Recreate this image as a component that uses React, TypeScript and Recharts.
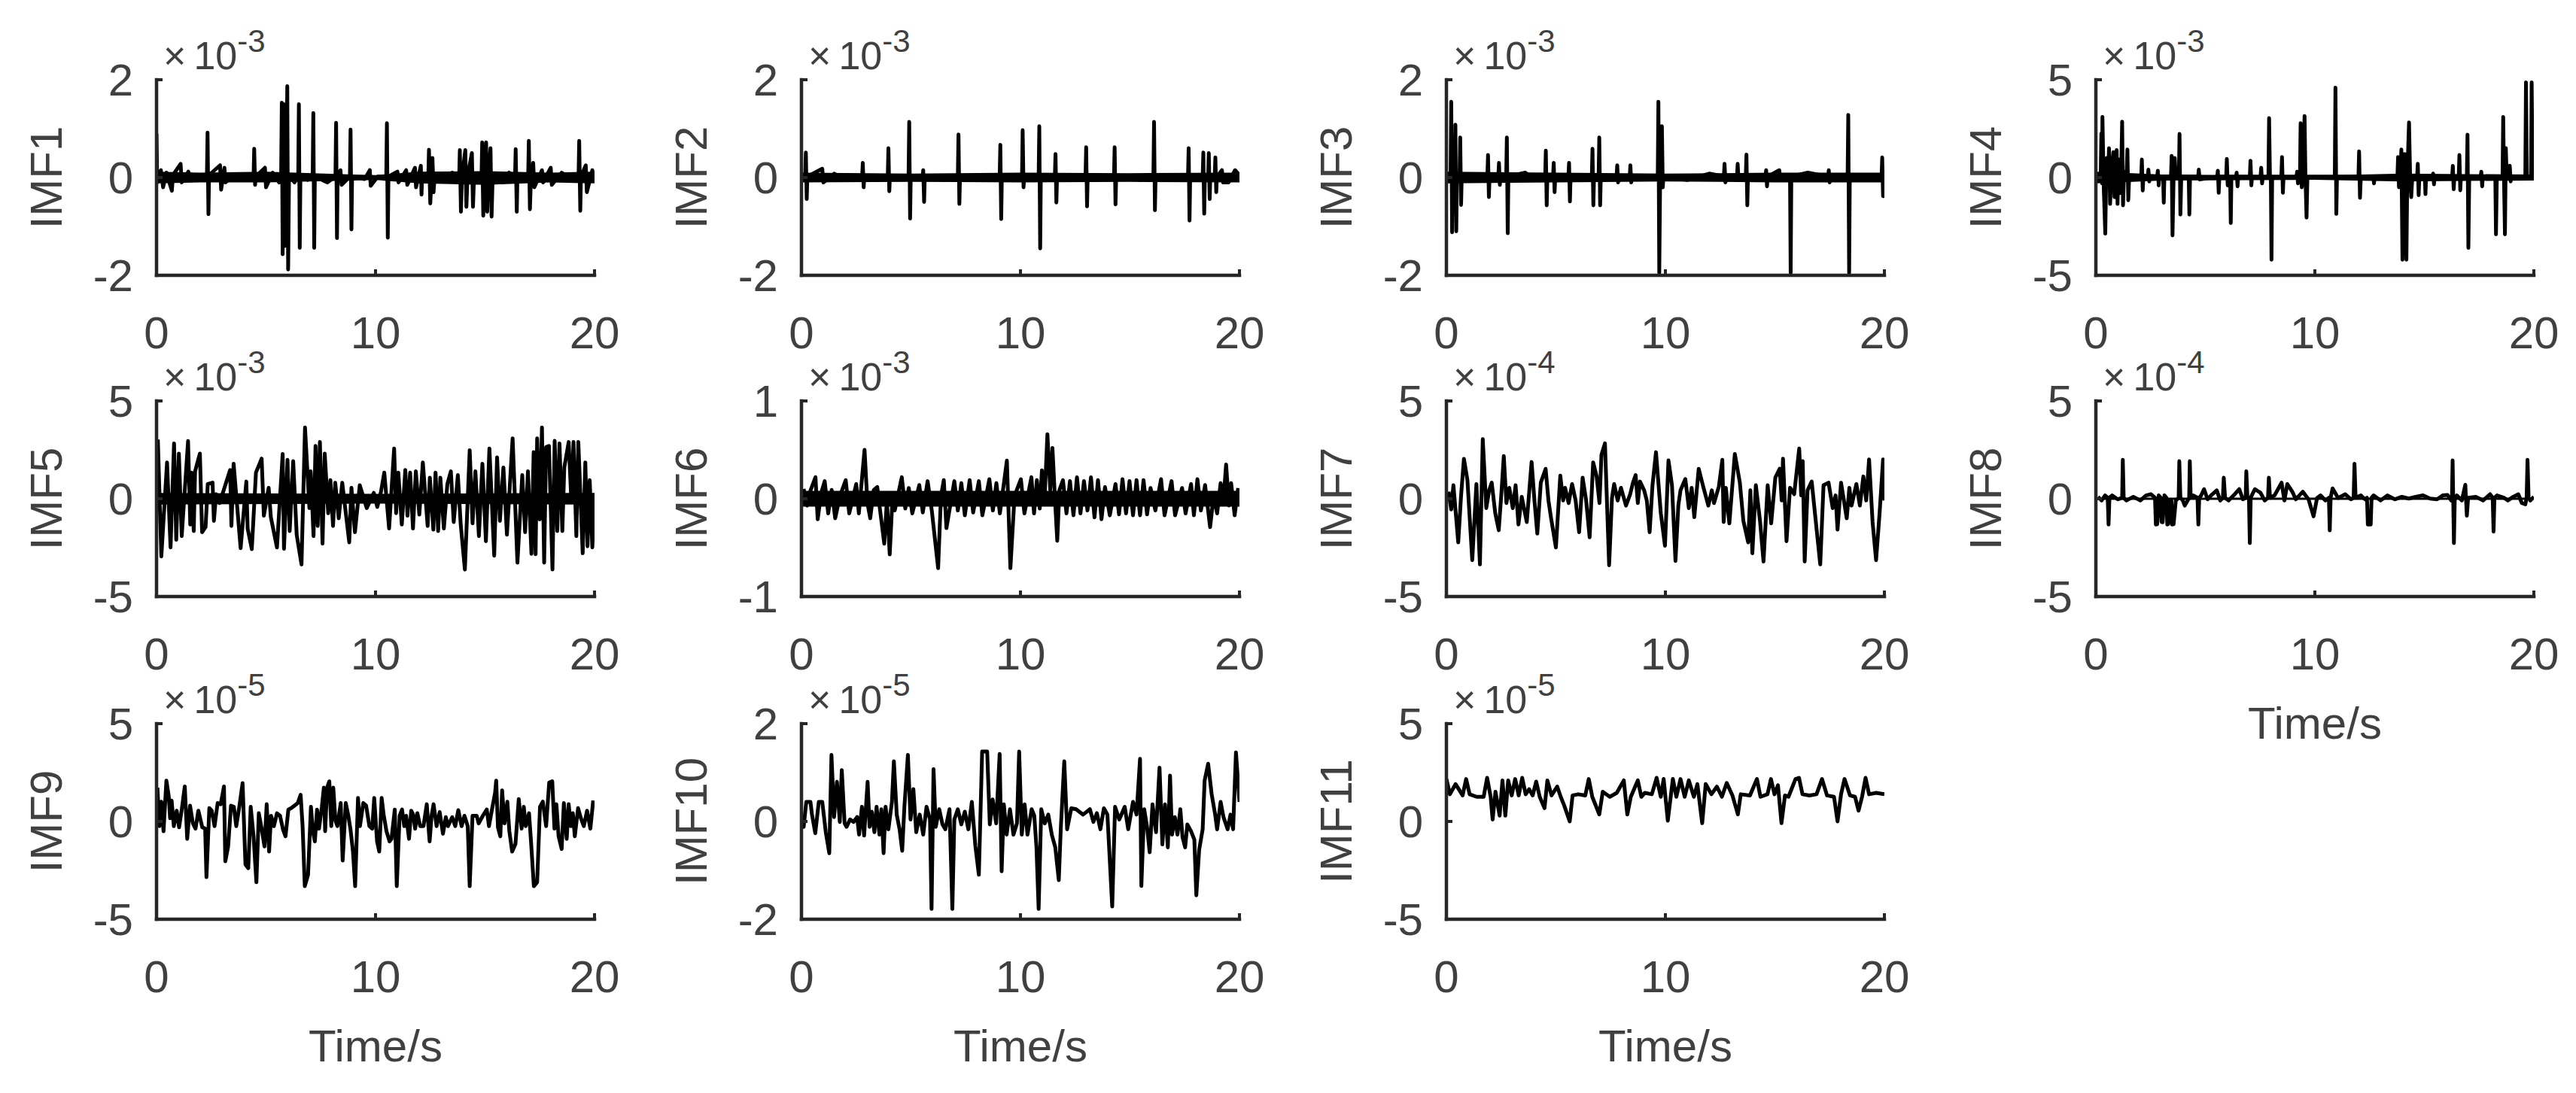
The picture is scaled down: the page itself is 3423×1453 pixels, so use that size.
import * as React from "react"
import { ComposedChart, Line, Area, XAxis, YAxis } from "recharts"

// values are in axis units (see EXPONENTS for the x10^n multiplier)
const IMF_NAMES = ["IMF1", "IMF2", "IMF3", "IMF4", "IMF5", "IMF6", "IMF7", "IMF8", "IMF9", "IMF10", "IMF11"]
const EXPONENTS = [-3, -3, -3, -3, -3, -3, -4, -4, -5, -5, -5]
const Y_LIMITS = [2, 2, 2, 5, 5, 1, 5, 5, 5, 2, 5]
const X_TICKS = [0, 10, 20]

type Pt = [number, number]
type Band = [number, number, number]

const IMF1: Pt[] = [[0,0.9],[0.03,-0.1],[0.2,0.15],[0.3,-0.2],[0.45,0.1],[0.7,-0.27],[0.75,0.05],[1.1,0.28],[1.15,-0.1],[1.45,0.12],[1.6,-0.05],[2.0,0.05],[2.3,0.02],[2.33,0.92],[2.37,-0.75],[2.4,0.05],[2.9,0.25],[2.95,-0.25],[3.1,0.2],[3.15,-0.1],[3.5,0.05],[4.0,-0.05],[4.43,0.02],[4.46,0.59],[4.5,-0.15],[4.53,0.02],[4.95,0.2],[5.0,-0.2],[5.3,0.1],[5.6,-0.1],[5.69,0.05],[5.72,1.53],[5.76,-1.57],[5.82,1.5],[5.86,-1.4],[5.93,0.05],[5.97,1.87],[6.01,-1.88],[6.05,0.05],[6.3,-0.1],[6.47,0.02],[6.5,1.5],[6.54,-1.44],[6.57,0.02],[6.9,-0.05],[7.13,0.02],[7.16,1.32],[7.2,-1.44],[7.23,0.02],[7.8,-0.1],[8.17,0.02],[8.2,1.12],[8.24,-1.24],[8.27,0.02],[8.4,0.15],[8.45,-0.15],[8.83,0.02],[8.86,0.98],[8.9,-1.06],[8.93,0.02],[9.5,-0.03],[9.74,0.15],[9.78,-0.17],[10.1,0.02],[10.49,0.02],[10.52,1.11],[10.56,-1.23],[10.59,0.02],[11.0,0.12],[11.05,-0.1],[11.4,0.15],[11.45,-0.15],[11.8,0.2],[11.85,-0.2],[12.07,0.24],[12.1,-0.35],[12.13,0.02],[12.41,0.02],[12.44,0.57],[12.5,-0.53],[12.6,0.4],[12.65,-0.3],[12.7,0.02],[13.3,-0.05],[13.5,0.1],[13.82,0.02],[13.85,0.56],[13.9,-0.7],[13.95,0.02],[14.1,0.56],[14.15,-0.6],[14.2,0.02],[14.4,0.5],[14.45,-0.6],[14.5,0.02],[14.84,0.02],[14.87,0.72],[14.92,-0.78],[14.96,0.02],[15.05,0.72],[15.1,-0.7],[15.15,0.02],[15.25,0.6],[15.3,-0.8],[15.35,0.02],[15.8,-0.1],[16.1,0.1],[16.37,0.02],[16.4,0.58],[16.45,-0.7],[16.48,0.02],[16.97,0.02],[17.0,0.75],[17.05,-0.65],[17.1,0.02],[17.2,0.3],[17.25,-0.2],[17.6,0.15],[17.65,-0.1],[18.0,0.2],[18.05,-0.15],[18.5,0.1],[19.0,-0.05],[19.27,0.02],[19.3,0.75],[19.35,-0.68],[19.38,0.02],[19.6,0.25],[19.65,-0.3],[19.9,0.15],[20,-0.1]]
const IMF1_BAND: Band[] = [[0,-0.12,0.12],[2,-0.1,0.1],[5,-0.1,0.12],[9,-0.06,0.06],[10,-0.05,0.05],[12,-0.12,0.12],[15,-0.15,0.13],[18,-0.1,0.1],[20,-0.12,0.12]]

const IMF2: Pt[] = [[0,0.05],[0.17,0.02],[0.2,0.51],[0.24,-0.44],[0.27,0.02],[0.95,0.18],[1.0,-0.1],[1.5,0.08],[2.0,-0.05],[2.77,0.02],[2.8,0.3],[2.84,-0.2],[2.87,0.02],[3.94,0.02],[3.97,0.6],[4.01,-0.28],[4.04,0.02],[4.89,0.02],[4.92,1.14],[4.96,-0.84],[4.99,0.02],[5.53,0.02],[5.56,0.15],[5.6,-0.5],[5.63,0.02],[6.5,-0.05],[7.14,0.02],[7.17,0.88],[7.21,-0.54],[7.24,0.02],[8.3,-0.05],[9.05,0.02],[9.08,0.67],[9.12,-0.85],[9.15,0.02],[10.07,0.02],[10.1,0.97],[10.14,-0.2],[10.17,0.02],[10.83,0.02],[10.86,1.05],[10.9,-1.45],[10.93,0.02],[11.57,0.02],[11.6,0.48],[11.64,-0.51],[11.67,0.02],[12.5,-0.05],[12.97,0.02],[13.0,0.62],[13.04,-0.59],[13.07,0.02],[14.27,0.02],[14.3,0.62],[14.34,-0.55],[14.37,0.02],[15.5,-0.05],[16.07,0.02],[16.1,1.14],[16.14,-0.67],[16.17,0.02],[17.2,-0.05],[17.65,0.02],[17.68,0.6],[17.72,-0.88],[17.75,0.02],[18.32,0.02],[18.35,0.51],[18.39,-0.74],[18.42,0.02],[18.57,0.02],[18.6,0.5],[18.64,-0.44],[18.67,0.02],[18.87,0.02],[18.9,0.41],[18.94,-0.3],[18.97,0.02],[19.2,0.15],[19.25,-0.1],[19.5,-0.1],[19.8,0.15],[20,0.05]]
const IMF2_BAND: Band[] = [[0,-0.1,0.1],[5,-0.09,0.08],[10,-0.1,0.1],[15,-0.09,0.09],[20,-0.1,0.1]]

const IMF3: Pt[] = [[0,0.05],[0.19,0.02],[0.22,1.55],[0.26,-1.12],[0.29,0.02],[0.38,0.02],[0.41,1.08],[0.45,-1.1],[0.48,0.02],[0.6,0.02],[0.63,0.82],[0.67,-0.56],[0.7,0.02],[1.3,-0.05],[1.87,0.02],[1.9,0.46],[1.94,-0.4],[1.97,0.02],[2.37,0.02],[2.4,0.3],[2.44,-0.15],[2.47,0.02],[2.73,0.02],[2.76,0.82],[2.8,-1.14],[2.83,0.02],[3.6,0.1],[4.0,-0.05],[4.51,0.02],[4.54,0.55],[4.58,-0.57],[4.61,0.02],[4.87,0.02],[4.9,0.3],[4.94,-0.3],[4.97,0.02],[5.57,0.02],[5.6,0.3],[5.64,-0.49],[5.67,0.02],[6.64,0.02],[6.67,0.59],[6.71,-0.57],[6.74,0.02],[6.95,0.02],[6.98,0.82],[7.02,-0.57],[7.05,0.02],[7.77,0.02],[7.8,0.25],[7.84,-0.1],[7.87,0.02],[8.37,0.02],[8.4,0.25],[8.44,-0.1],[8.47,0.02],[9.65,0.02],[9.68,1.55],[9.72,-1.95],[9.76,0.02],[9.81,0.02],[9.84,1.05],[9.88,-0.2],[9.91,0.02],[11.0,-0.05],[12.0,0.08],[12.67,0.02],[12.7,0.28],[12.74,-0.1],[12.77,0.02],[13.27,0.02],[13.3,0.28],[13.33,0.02],[13.67,0.02],[13.7,0.47],[13.74,-0.57],[13.77,0.02],[14.57,0.02],[14.6,0.15],[14.64,-0.18],[14.67,0.02],[15.2,0.15],[15.25,-0.05],[15.69,0.02],[15.72,-1.95],[15.75,0.02],[16.5,0.1],[17.43,0.02],[17.46,0.15],[17.5,-0.1],[17.53,0.02],[18.32,0.02],[18.35,1.28],[18.39,-1.95],[18.42,0.02],[19.3,-0.05],[19.87,0.02],[19.9,0.41],[19.94,-0.38],[19.97,0.02],[20,0.05]]
const IMF3_BAND: Band[] = [[0,-0.12,0.12],[5,-0.1,0.1],[10,-0.08,0.08],[15,-0.1,0.1],[20,-0.1,0.1]]

const IMF4: Pt[] = [[0,0.1],[0.22,0.05],[0.25,2.25],[0.28,-0.3],[0.3,3.1],[0.36,-0.5],[0.43,-2.87],[0.47,0.1],[0.5,1.0],[0.55,-0.2],[0.6,1.5],[0.65,-1.35],[0.7,0.1],[0.8,1.3],[0.85,-1.0],[0.9,0.1],[0.95,1.4],[0.99,-1.35],[1.02,0.1],[1.05,0.92],[1.1,-0.8],[1.15,0.05],[1.2,2.86],[1.24,-1.42],[1.28,0.05],[1.35,0.3],[1.4,0.05],[1.44,1.43],[1.48,-1.16],[1.52,0.05],[2.07,0.05],[2.1,0.92],[2.14,-0.66],[2.17,0.05],[2.37,0.05],[2.4,0.4],[2.44,-0.2],[2.47,0.05],[2.8,0.05],[2.83,0.35],[2.87,-0.4],[2.9,0.05],[3.07,0.05],[3.1,-1.29],[3.13,0.05],[3.43,0.05],[3.46,1.11],[3.5,-2.96],[3.55,0.05],[3.6,1.0],[3.65,0.05],[3.79,0.05],[3.82,2.23],[3.86,-1.89],[3.9,0.05],[4.24,0.05],[4.27,-1.89],[4.3,0.05],[4.67,0.05],[4.7,0.4],[4.74,-0.1],[5.54,0.05],[5.57,0.35],[5.61,-0.78],[5.64,0.05],[5.95,0.05],[5.98,0.95],[6.02,-0.4],[6.05,0.05],[6.13,0.05],[6.16,-2.33],[6.19,0.05],[6.4,0.05],[6.43,0.25],[6.47,-0.45],[6.5,0.05],[7.03,0.05],[7.06,0.86],[7.1,-0.4],[7.13,0.05],[7.52,0.05],[7.55,0.5],[7.59,-0.3],[7.62,0.05],[7.88,0.05],[7.91,3.04],[7.95,0.05],[7.99,0.05],[8.02,-4.2],[8.05,0.05],[8.47,0.05],[8.5,1.05],[8.54,-0.78],[8.57,0.05],[9.16,0.05],[9.19,0.3],[9.23,-0.3],[9.26,0.05],[9.32,0.05],[9.35,2.78],[9.4,-0.5],[9.45,0.05],[9.53,3.14],[9.57,0.05],[9.62,-2.05],[9.66,0.05],[10.91,0.05],[10.94,4.6],[10.98,-1.86],[11.01,0.05],[11.99,0.05],[12.02,1.34],[12.06,-1.04],[12.1,0.05],[12.67,0.05],[12.7,-0.3],[12.73,0.05],[13.77,0.05],[13.8,1.05],[13.84,-0.5],[13.9,0.05],[13.95,1.43],[14.0,-4.2],[14.05,0.05],[14.1,1.2],[14.18,-4.2],[14.22,0.05],[14.3,2.82],[14.35,0.05],[14.4,-1.0],[14.45,0.05],[14.67,0.05],[14.7,0.7],[14.74,-0.9],[14.77,0.05],[15.02,0.05],[15.05,-0.85],[15.08,0.05],[15.37,0.05],[15.4,0.2],[15.44,-0.35],[15.47,0.05],[16.27,0.05],[16.3,0.6],[16.34,-0.6],[16.37,0.05],[16.57,0.05],[16.6,1.15],[16.64,-0.65],[16.67,0.05],[16.94,0.05],[16.97,2.19],[17.01,-3.6],[17.05,0.05],[17.57,0.05],[17.6,0.3],[17.64,-0.45],[17.67,0.05],[18.24,0.05],[18.27,-2.9],[18.31,0.05],[18.57,0.05],[18.6,3.1],[18.64,-0.3],[18.68,-2.9],[18.72,1.5],[18.76,0.05],[18.9,0.6],[18.94,-0.2],[18.97,0.05],[19.61,0.05],[19.64,4.87],[19.68,0.05],[19.87,0.05],[19.9,4.87],[19.94,0.05],[20,0.1]]
const IMF4_BAND: Band[] = [[0,-0.3,0.3],[3,-0.15,0.15],[10,-0.12,0.1],[14,-0.2,0.2],[20,-0.15,0.15]]

const IMF5: Pt[] = [[0.06,3.03],[0.22,-2.95],[0.48,1.86],[0.64,-2.49],[0.8,2.83],[0.9,-2.1],[1.02,2.31],[1.15,-1.91],[1.44,2.95],[1.54,-1.32],[1.6,1.34],[1.7,-1.65],[1.76,1.4],[1.98,2.31],[2.08,-1.71],[2.24,-1.45],[2.34,0.75],[2.56,0.82],[2.62,-1.13],[2.72,0.23],[2.88,-0.22],[3.36,1.47],[3.42,-1.39],[3.52,1.79],[3.84,-2.53],[4.1,0.88],[4.16,-1.52],[4.35,-2.58],[4.54,1.34],[4.8,2.05],[4.9,-0.87],[5.12,0.56],[5.22,-0.94],[5.5,-2.49],[5.76,2.29],[5.82,-2.56],[5.98,1.99],[6.08,-1.65],[6.24,1.92],[6.4,-1.84],[6.62,-3.36],[6.78,3.64],[6.98,-0.48],[7.04,1.4],[7.17,-1.91],[7.26,2.7],[7.36,-1.39],[7.46,2.9],[7.58,-2.3],[7.68,2.31],[7.84,-0.74],[7.94,0.95],[8.06,-1.39],[8.16,0.82],[8.32,-1.0],[8.48,0.82],[8.8,-2.23],[8.9,0.56],[9.06,-1.71],[9.28,0.69],[9.6,-0.48],[9.92,0.3],[10.08,-0.42],[10.24,0.3],[10.4,1.34],[10.62,-1.52],[10.85,2.57],[10.94,-0.74],[11.04,1.34],[11.2,-1.32],[11.36,1.47],[11.46,-0.87],[11.58,1.34],[11.71,-1.52],[11.84,1.4],[12.0,-0.81],[12.16,1.86],[12.38,-1.39],[12.48,1.08],[12.64,-1.58],[12.74,1.34],[12.86,-1.65],[12.96,1.08],[13.12,-1.52],[13.28,0.75],[13.44,1.4],[13.57,-1.19],[13.76,1.21],[13.89,-1.32],[14.08,-3.62],[14.3,2.48],[14.43,-1.26],[14.56,1.4],[14.72,-1.91],[14.88,1.79],[15.04,-2.17],[15.2,2.57],[15.42,-2.91],[15.55,2.12],[15.68,-1.13],[15.84,1.6],[16.0,-1.84],[16.26,3.09],[16.48,-3.27],[16.7,1.21],[16.83,-1.71],[16.96,1.4],[17.12,-2.82],[17.22,2.38],[17.31,-2.84],[17.38,3.09],[17.5,-1.06],[17.6,3.64],[17.7,-3.27],[17.79,2.64],[17.92,2.7],[18.08,-3.62],[18.18,2.96],[18.3,-1.65],[18.4,2.83],[18.53,-1.65],[18.62,1.6],[18.82,2.9],[18.94,-0.09],[19.04,2.9],[19.17,-1.91],[19.26,2.9],[19.46,-2.79],[19.58,1.86],[19.68,-2.43],[19.78,0.95],[19.9,-2.49],[20,0.17]]
const IMF5_BAND: Band[] = [[0,-0.3,0.3],[10,-0.25,0.25],[20,-0.3,0.3]]

const IMF6: Pt[] = [[0.1,0.1],[0.26,-0.07],[0.42,0.09],[0.64,0.22],[0.74,-0.21],[0.9,0.06],[1.06,0.18],[1.22,-0.15],[1.38,0.09],[1.54,-0.2],[1.76,0.03],[2.02,0.19],[2.18,-0.15],[2.5,0.15],[2.62,-0.15],[2.88,0.5],[3.01,-0.04],[3.14,-0.2],[3.3,0.09],[3.46,0.12],[3.58,-0.1],[3.78,-0.46],[3.9,-0.02],[4.03,-0.57],[4.16,0.03],[4.26,-0.12],[4.58,0.22],[4.74,-0.1],[4.9,0.11],[5.06,-0.15],[5.38,0.14],[5.54,-0.14],[5.76,0.18],[5.95,-0.12],[6.24,-0.71],[6.37,0.03],[6.5,0.19],[6.62,-0.3],[6.98,0.18],[7.14,-0.12],[7.3,0.16],[7.46,-0.17],[7.68,0.19],[7.84,-0.14],[8.1,0.18],[8.26,-0.17],[8.58,0.2],[8.74,-0.12],[8.9,0.16],[9.06,-0.15],[9.38,0.39],[9.54,-0.71],[9.73,0.03],[10.02,0.2],[10.18,-0.15],[10.5,0.22],[10.62,-0.15],[10.75,0.19],[10.88,-0.1],[10.98,0.29],[11.1,-0.02],[11.23,0.66],[11.36,0.09],[11.46,0.52],[11.58,-0.02],[11.68,-0.43],[11.78,0.09],[11.94,0.19],[12.1,-0.15],[12.26,0.18],[12.42,-0.17],[12.58,0.22],[12.74,-0.15],[12.9,0.18],[13.06,-0.12],[13.22,0.22],[13.38,-0.19],[13.54,0.19],[13.7,-0.21],[13.86,0.12],[14.08,-0.17],[14.34,0.15],[14.5,-0.16],[14.66,0.2],[14.82,-0.15],[14.98,0.18],[15.14,-0.17],[15.3,0.19],[15.46,-0.17],[15.62,0.19],[15.78,-0.16],[15.94,0.11],[16.16,-0.12],[16.42,0.2],[16.58,-0.17],[16.9,0.18],[17.06,-0.17],[17.38,0.11],[17.54,-0.15],[17.79,0.15],[17.92,-0.17],[18.08,0.2],[18.24,-0.12],[18.43,0.14],[18.66,-0.29],[18.82,0.03],[18.98,-0.15],[19.14,0.16],[19.26,-0.04],[19.39,0.35],[19.52,-0.07],[19.62,0.16],[19.78,-0.17],[19.94,0.11]]
const IMF6_BAND: Band[] = [[0,-0.08,0.08],[20,-0.08,0.08]]

const IMF7: Pt[] = [[0.1,0.36],[0.22,-0.55],[0.32,0.69],[0.54,-2.23],[0.67,0.17],[0.8,2.04],[0.96,0.95],[1.18,-3.14],[1.37,0.75],[1.53,-3.36],[1.66,3.05],[1.82,-0.48],[1.95,0.43],[2.07,0.82],[2.23,-0.74],[2.39,-1.61],[2.52,0.43],[2.62,2.18],[2.74,-0.22],[2.87,0.56],[3.03,-0.48],[3.16,0.69],[3.29,-1.32],[3.44,0.1],[3.67,-1.19],[3.89,1.88],[4.02,-0.09],[4.15,-1.78],[4.31,0.82],[4.53,1.53],[4.66,-0.09],[4.78,-1.0],[5.0,-2.49],[5.2,1.18],[5.33,-0.09],[5.42,0.56],[5.58,-0.22],[5.74,0.75],[5.9,-0.09],[6.06,-1.71],[6.22,1.08],[6.38,-0.09],[6.54,-1.97],[6.7,1.86],[6.86,1.14],[6.99,-0.22],[7.08,2.25],[7.24,2.83],[7.43,-3.4],[7.56,0.04],[7.66,0.75],[7.82,-0.09],[7.97,0.56],[8.2,-0.35],[8.39,0.23],[8.52,0.82],[8.64,1.21],[8.74,-0.22],[8.84,0.88],[9.03,0.43],[9.15,-0.09],[9.28,-1.71],[9.41,0.69],[9.57,2.38],[9.79,-0.74],[9.98,-2.4],[10.14,1.96],[10.3,0.69],[10.46,-3.18],[10.59,-0.35],[10.69,0.43],[10.91,1.01],[11.07,-0.48],[11.2,0.56],[11.32,-0.94],[11.52,1.53],[11.71,0.69],[11.96,-0.35],[12.12,0.43],[12.22,-0.22],[12.44,0.62],[12.6,1.99],[12.66,-1.19],[12.76,0.56],[12.92,-1.26],[13.17,2.29],[13.4,0.82],[13.56,-1.13],[13.78,-2.23],[13.88,0.43],[13.97,-2.79],[14.13,0.69],[14.32,-1.13],[14.48,-3.21],[14.67,0.69],[14.83,-1.26],[15.02,1.08],[15.22,1.53],[15.31,-0.09],[15.37,2.05],[15.53,-2.17],[15.69,0.56],[15.88,0.23],[16.11,2.57],[16.2,0.17],[16.27,1.92],[16.36,-3.21],[16.49,0.43],[16.68,0.88],[16.84,-0.87],[17.07,-3.36],[17.22,0.69],[17.45,0.82],[17.64,-0.48],[17.77,0.17],[17.86,-1.58],[18.02,0.82],[18.28,-1.0],[18.4,0.56],[18.5,-0.35],[18.72,0.75],[18.88,-0.35],[19.04,1.14],[19.17,-0.09],[19.3,2.01],[19.46,-1.19],[19.62,-3.14],[19.78,-0.74],[19.94,2.01],[20,-0.09]]

const IMF8: Pt[] = [[0.1,0.1],[0.26,-0.09],[0.42,0.17],[0.54,0.05],[0.58,-1.32],[0.62,0.05],[0.74,0.17],[1.0,-0.03],[1.2,0.05],[1.23,1.99],[1.27,0.05],[1.39,-0.09],[1.71,0.1],[2.03,-0.09],[2.29,0.17],[2.52,0.23],[2.7,0.05],[2.74,-1.32],[2.8,-1.3],[2.87,0.17],[2.96,0.05],[3.0,-1.19],[3.05,-1.2],[3.13,0.17],[3.22,0.05],[3.26,-1.32],[3.3,-1.3],[3.39,-0.09],[3.45,-0.1],[3.48,-1.32],[3.55,-1.3],[3.65,-0.09],[3.78,0.05],[3.81,1.92],[3.86,0.05],[3.97,-0.09],[4.06,-0.35],[4.26,0.05],[4.29,1.92],[4.33,0.05],[4.45,0.17],[4.64,0.05],[4.68,-1.32],[4.72,0.05],[4.81,0.17],[4.94,0.49],[5.1,-0.03],[5.26,0.17],[5.52,0.43],[5.68,-0.09],[5.8,0.05],[5.84,1.08],[5.9,0.05],[6.06,-0.09],[6.29,0.17],[6.55,0.49],[6.71,-0.03],[6.84,0.05],[6.87,1.4],[6.92,0.05],[6.99,0.05],[7.03,-2.27],[7.07,0.05],[7.26,0.49],[7.52,0.3],[7.71,-0.09],[7.86,0.05],[7.9,1.08],[7.95,0.05],[8.16,0.17],[8.48,0.82],[8.61,-0.09],[8.74,0.75],[8.97,0.36],[9.13,-0.03],[9.45,0.36],[9.71,-0.03],[9.94,-0.9],[10.1,0.04],[10.26,0.17],[10.48,-0.09],[10.64,0.05],[10.68,-1.62],[10.72,0.05],[10.81,0.53],[11.06,0.04],[11.39,0.23],[11.65,-0.03],[11.77,0.05],[11.81,1.79],[11.86,0.05],[12.1,0.17],[12.29,-0.03],[12.38,0.05],[12.42,-1.32],[12.55,-1.32],[12.59,0.05],[12.68,0.17],[13.0,-0.09],[13.32,0.17],[13.65,-0.03],[13.97,0.1],[14.29,0.01],[14.61,0.1],[14.94,0.17],[15.26,0.01],[15.58,-0.03],[15.84,0.17],[16.06,0.19],[16.23,-0.09],[16.26,0.05],[16.29,1.96],[16.35,-2.27],[16.39,0.05],[16.48,0.17],[16.71,-0.09],[16.87,0.71],[16.94,-0.87],[17.0,0.05],[17.35,0.1],[17.68,-0.09],[18.0,0.23],[18.12,0.05],[18.16,-1.68],[18.2,0.05],[18.32,0.17],[18.65,0.04],[18.81,-0.09],[19.06,0.1],[19.29,0.23],[19.45,-0.22],[19.61,-0.29],[19.67,0.05],[19.71,1.99],[19.76,0.05],[19.84,-0.09],[20,0.1]]
const IMF8_BAND: Band[] = [[0,-0.06,0.06],[20,-0.06,0.06]]

const IMF9: Pt[] = [[0.04,1.73],[0.13,-0.24],[0.22,1.01],[0.32,-0.5],[0.45,2.09],[0.56,1.27],[0.62,0.16],[0.69,1.07],[0.79,-0.24],[0.92,0.55],[1.03,-0.3],[1.16,0.68],[1.29,1.79],[1.4,-0.89],[1.53,0.81],[1.66,-0.1],[1.78,-0.37],[1.91,0.55],[2.09,-0.3],[2.22,-0.37],[2.28,-2.85],[2.41,0.68],[2.52,0.55],[2.65,-0.24],[2.79,0.94],[2.93,0.88],[3.08,1.79],[3.14,-2.04],[3.27,-1.28],[3.4,0.81],[3.53,0.75],[3.64,-0.24],[3.78,0.75],[3.93,1.96],[4.06,-2.2],[4.19,-2.39],[4.3,0.75],[4.43,-0.76],[4.56,-3.11],[4.67,0.42],[4.8,-0.37],[4.93,-1.28],[5.03,0.88],[5.14,-1.54],[5.23,0.29],[5.36,-0.24],[5.5,0.42],[5.64,0.29],[5.78,-0.43],[5.89,-0.76],[6.02,0.61],[6.15,0.68],[6.3,0.81],[6.45,0.94],[6.58,1.36],[6.67,-0.24],[6.77,-3.31],[6.92,-2.72],[7.05,0.75],[7.14,-0.5],[7.23,-1.02],[7.33,0.61],[7.42,-0.37],[7.55,0.75],[7.64,1.73],[7.7,-0.5],[7.79,1.73],[7.89,2.05],[7.98,-0.24],[8.07,1.73],[8.17,0.03],[8.26,-0.24],[8.41,0.94],[8.5,-2.0],[8.64,0.94],[8.75,0.35],[8.86,-0.43],[8.97,-1.54],[9.07,-3.31],[9.2,1.2],[9.29,-0.24],[9.44,0.94],[9.57,0.81],[9.72,-0.24],[9.85,-0.37],[9.94,1.2],[10.07,-1.02],[10.17,-1.54],[10.28,1.2],[10.37,0.35],[10.5,-0.5],[10.64,-1.02],[10.73,-0.89],[10.88,0.61],[10.97,-3.31],[11.1,0.29],[11.21,0.61],[11.31,-0.24],[11.4,0.29],[11.53,-0.89],[11.63,0.55],[11.72,0.35],[11.81,-0.37],[11.91,0.42],[12.04,-0.24],[12.19,-0.24],[12.34,0.88],[12.47,-1.02],[12.56,0.29],[12.65,0.88],[12.79,-0.24],[12.93,0.48],[13.08,-0.63],[13.21,0.22],[13.31,-0.24],[13.5,0.22],[13.64,-0.24],[13.78,0.58],[13.93,-0.24],[14.06,0.29],[14.21,-0.24],[14.3,-3.31],[14.43,0.29],[14.62,0.29],[14.71,-0.1],[14.9,0.29],[15.08,0.61],[15.18,-0.24],[15.33,0.68],[15.46,1.46],[15.51,2.09],[15.59,-0.3],[15.7,-0.76],[15.78,1.59],[15.89,-0.1],[16.02,1.01],[16.11,-0.5],[16.24,-1.54],[16.39,-1.15],[16.54,1.14],[16.67,-0.37],[16.77,0.75],[16.86,-0.24],[17.01,0.42],[17.1,-1.02],[17.23,-3.31],[17.38,-3.11],[17.51,0.75],[17.64,1.01],[17.79,-0.24],[17.93,1.99],[18.07,2.05],[18.17,-0.37],[18.26,0.88],[18.36,-0.76],[18.5,-1.41],[18.6,0.94],[18.73,-0.89],[18.82,0.88],[18.92,-0.24],[19.01,0.42],[19.1,-0.76],[19.25,0.68],[19.38,0.16],[19.51,-0.24],[19.66,0.55],[19.81,-0.37],[19.94,1.07]]

const IMF10: Pt[] = [[0,-0.01],[0.1,-0.11],[0.22,0.4],[0.41,0.4],[0.48,0.14],[0.63,-0.24],[0.79,0.4],[0.95,0.4],[1.11,-0.22],[1.27,-0.65],[1.37,1.36],[1.49,0.09],[1.62,0.81],[1.75,-0.01],[1.84,1.05],[1.97,-0.04],[2.06,-0.11],[2.22,0.04],[2.38,-0.01],[2.54,0.09],[2.63,-0.27],[2.76,0.3],[2.86,-0.29],[3.02,0.81],[3.11,-0.11],[3.21,0.2],[3.33,-0.22],[3.43,0.3],[3.56,-0.27],[3.65,0.25],[3.75,-0.65],[3.84,0.3],[3.97,-0.16],[4.13,0.4],[4.22,1.23],[4.35,0.14],[4.48,-0.16],[4.6,-0.6],[4.7,0.3],[4.86,1.36],[4.98,0.04],[5.11,0.66],[5.24,-0.22],[5.4,0.14],[5.56,-0.27],[5.71,0.3],[5.87,0.04],[5.94,-1.79],[6.03,1.07],[6.13,-0.11],[6.29,0.25],[6.44,-0.06],[6.57,-0.16],[6.76,0.25],[6.89,-1.79],[6.98,0.04],[7.14,0.25],[7.3,-0.06],[7.46,0.2],[7.62,-0.16],[7.78,0.4],[7.94,-0.5],[8.1,-1.09],[8.25,1.43],[8.48,1.43],[8.6,-0.06],[8.73,0.45],[8.89,-0.04],[9.05,1.38],[9.14,-1.02],[9.24,0.35],[9.37,-0.27],[9.52,0.25],[9.68,-0.27],[9.84,-0.04],[9.94,1.43],[10.06,-0.27],[10.19,0.35],[10.32,-0.27],[10.51,0.25],[10.63,0.12],[10.73,-0.53],[10.83,-1.79],[10.95,0.25],[11.11,-0.04],[11.27,0.14],[11.43,-0.27],[11.59,-0.53],[11.75,-1.2],[11.84,-0.16],[12.0,1.23],[12.13,-0.16],[12.32,0.27],[12.54,0.25],[12.86,0.14],[13.17,0.25],[13.33,-0.01],[13.49,0.17],[13.65,-0.16],[13.81,0.27],[13.97,0.14],[14.19,-1.74],[14.32,0.3],[14.51,0.04],[14.76,0.3],[14.92,-0.16],[15.14,0.4],[15.3,0.14],[15.46,1.28],[15.52,-1.32],[15.65,0.25],[15.78,-0.11],[15.9,-0.63],[16.03,0.35],[16.19,-0.22],[16.35,1.1],[16.48,-0.47],[16.6,0.35],[16.73,-0.53],[16.83,0.94],[16.92,-0.27],[17.05,0.09],[17.17,-0.27],[17.3,0.25],[17.4,-0.32],[17.52,-0.53],[17.62,-0.06],[17.78,-0.19],[17.94,-0.37],[18.03,-1.51],[18.16,-0.58],[18.32,-0.16],[18.41,0.84],[18.57,1.18],[18.73,0.56],[18.89,0.14],[18.98,-0.16],[19.14,0.4],[19.27,0.09],[19.46,-0.16],[19.59,0.14],[19.71,-0.16],[19.84,1.41],[20,0.4]]

const IMF11: Pt[] = [[0,2.17],[0.16,1.39],[0.42,1.91],[0.74,1.33],[0.9,2.17],[1.06,1.39],[1.38,1.26],[1.7,1.26],[1.86,2.23],[2.02,1.26],[2.11,0.1],[2.24,1.52],[2.43,0.3],[2.56,2.1],[2.69,0.3],[2.82,2.1],[2.98,1.33],[3.14,2.17],[3.3,1.33],[3.46,2.23],[3.62,1.39],[3.78,1.65],[3.94,1.33],[4.1,2.04],[4.26,1.26],[4.48,0.68],[4.61,2.1],[4.8,1.33],[5.06,1.78],[5.22,1.26],[5.38,0.81],[5.63,0],[5.76,1.33],[6.02,1.39],[6.34,1.33],[6.5,2.17],[6.66,1.26],[6.98,0.36],[7.14,1.52],[7.46,1.26],[7.78,1.46],[8.1,2.1],[8.26,0.36],[8.42,1.26],[8.74,2.1],[8.9,1.26],[9.06,1.46],[9.38,1.39],[9.6,2.23],[9.79,1.26],[9.92,2.17],[10.11,0.04],[10.34,2.17],[10.5,1.26],[10.69,2.17],[10.88,1.26],[11.07,2.1],[11.3,1.26],[11.46,1.91],[11.68,-0.09],[11.84,1.91],[12.1,1.39],[12.35,1.78],[12.58,1.26],[12.8,1.97],[13.06,1.33],[13.31,0.36],[13.44,1.39],[13.86,1.33],[14.18,2.17],[14.34,1.26],[14.66,1.39],[14.82,2.17],[14.98,1.39],[15.14,1.85],[15.3,-0.09],[15.46,1.33],[15.62,1.26],[15.94,2.17],[16.1,2.23],[16.26,1.39],[16.58,1.33],[16.9,1.39],[17.15,2.17],[17.38,1.33],[17.7,1.26],[17.86,0],[18.02,1.39],[18.18,2.17],[18.43,1.33],[18.66,1.26],[18.82,0.55],[18.98,1.26],[19.14,2.23],[19.3,1.39],[19.62,1.46],[20,1.39]]

const SERIES: Pt[][] = [IMF1, IMF2, IMF3, IMF4, IMF5, IMF6, IMF7, IMF8, IMF9, IMF10, IMF11]
const BANDS: (Band[] | null)[] = [IMF1_BAND, IMF2_BAND, IMF3_BAND, IMF4_BAND, IMF5_BAND, IMF6_BAND, null, IMF8_BAND, null, null, null]

// layout (px) of the axes boxes in the 3423x1453 figure
const COL_X = [208, 1065, 1922, 2785]
const ROW_Y = [106, 533, 962]
const AX_W = 582
const AX_H = 260
const Y_AXIS_W = 200
const X_AXIS_H = 130
const TOP_M = 60
const RIGHT_M = 40

const FONT = "'Liberation Sans', Arial, Helvetica, sans-serif"
const TEXT = "#404040"
const AXIS = "#262626"
const LINE = "#000000"

const axisLine = { stroke: AXIS, strokeWidth: 4.5, strokeLinecap: "square" as const }
const tickLine = { stroke: AXIS, strokeWidth: 4 }
const tickText = { fontSize: 60, fill: TEXT, fontFamily: FONT }

function Panel({ idx }: { idx: number }) {
  const col = idx % 4
  const row = Math.floor(idx / 4)
  const lim = Y_LIMITS[idx]
  const lineData = SERIES[idx].map(([t, v]) => ({ t, v }))
  const band = BANDS[idx]
  const bandData = band ? band.map(([t, lo, hi]) => ({ t, band: [lo, hi] })) : null
  const width = Y_AXIS_W + AX_W + RIGHT_M
  const height = TOP_M + AX_H + X_AXIS_H

  return (
    <div
      style={{
        position: "absolute",
        left: COL_X[col] - Y_AXIS_W,
        top: ROW_Y[row] - TOP_M,
        width,
        height,
      }}
    >
      <ComposedChart width={width} height={height} margin={{ top: TOP_M, right: RIGHT_M, bottom: 0, left: 0 }}>
        <XAxis
          dataKey="t"
          type="number"
          domain={[0, 20]}
          ticks={X_TICKS}
          interval={0}
          height={X_AXIS_H}
          tickSize={-8}
          tickMargin={62}
          axisLine={axisLine}
          tickLine={tickLine}
          tick={tickText}
          allowDataOverflow
        />
        <XAxis
          xAxisId="top"
          orientation="top"
          type="number"
          domain={[0, 20]}
          ticks={X_TICKS}
          interval={0}
          height={0}
          tickSize={-8}
          axisLine={axisLine}
          tickLine={tickLine}
          tick={false}
          allowDataOverflow
        />
        <YAxis
          type="number"
          domain={[-lim, lim]}
          ticks={[-lim, 0, lim]}
          interval={0}
          width={Y_AXIS_W}
          tickSize={-8}
          tickMargin={39}
          axisLine={axisLine}
          tickLine={tickLine}
          tick={tickText}
          allowDataOverflow
        />
        <YAxis
          yAxisId="right"
          orientation="right"
          type="number"
          domain={[-lim, lim]}
          ticks={[-lim, 0, lim]}
          interval={0}
          width={0}
          tickSize={-8}
          axisLine={axisLine}
          tickLine={tickLine}
          tick={false}
          allowDataOverflow
        />
        {bandData && (
          <Area
            data={bandData}
            dataKey="band"
            type="linear"
            fill={LINE}
            fillOpacity={1}
            stroke="none"
            dot={false}
            activeDot={false}
            isAnimationActive={false}
          />
        )}
        <Line
          data={lineData}
          dataKey="v"
          type="linear"
          stroke={LINE}
          strokeWidth={5}
          strokeLinejoin="round"
          dot={false}
          activeDot={false}
          isAnimationActive={false}
        />
      </ComposedChart>
    </div>
  )
}

function Labels() {
  return (
    <svg
      width={3423}
      height={1453}
      style={{ position: "absolute", left: 0, top: 0, pointerEvents: "none" }}
      fontFamily={FONT}
      fill={TEXT}
    >
      {IMF_NAMES.map((name, idx) => {
        const col = idx % 4
        const row = Math.floor(idx / 4)
        const x0 = COL_X[col]
        const y0 = ROW_Y[row]
        const lx = x0 - 126
        const ly = y0 + AX_H / 2
        return (
          <g key={name}>
            <text x={lx} y={ly} fontSize={60} textAnchor="middle" transform={`rotate(-90 ${lx} ${ly})`}>
              {name}
            </text>
            <text x={x0 + 9} y={y0 - 14} fontSize={52}>
              ×<tspan dx={10}>10</tspan>
              <tspan fontSize={42} dy={-23}>{EXPONENTS[idx]}</tspan>
            </text>
          </g>
        )
      })}
      {[7, 8, 9, 10].map((idx) => {
        const col = idx % 4
        const row = Math.floor(idx / 4)
        return (
          <text
            key={idx}
            x={COL_X[col] + AX_W / 2}
            y={ROW_Y[row] + AX_H + 189}
            fontSize={60}
            textAnchor="middle"
          >
            Time/s
          </text>
        )
      })}
    </svg>
  )
}

export default function App() {
  return (
    <div style={{ position: "relative", width: 3423, height: 1453, background: "#fff" }}>
      <style>{`body{margin:0}`}</style>
      {IMF_NAMES.map((name, idx) => (
        <Panel key={name} idx={idx} />
      ))}
      <Labels />
    </div>
  )
}
